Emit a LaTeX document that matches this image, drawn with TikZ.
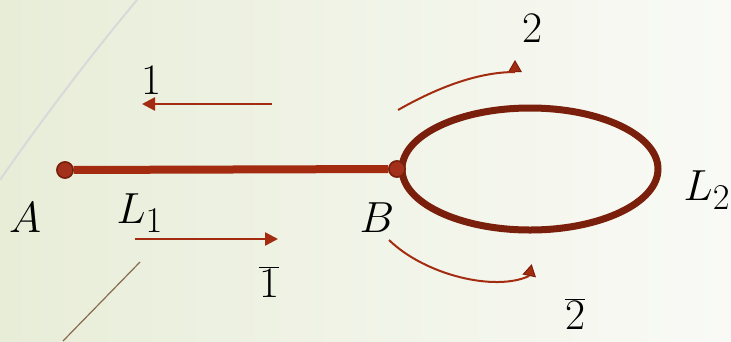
\documentclass[tikz,border=0pt]{standalone}
\usetikzlibrary{arrows.meta,shapes.geometric}
\definecolor{wirered}{HTML}{A32C10}
\definecolor{loopred}{HTML}{7A1F0B}
\definecolor{dotred}{HTML}{A3301A}
\definecolor{bgleft}{HTML}{E8EDD8}
\definecolor{bgright}{HTML}{F9FAF6}
\tikzset{
  wire/.style={line width=8pt, color=wirered},
  loopw/.style={ellipse, draw=loopred, line width=7pt, minimum width=256pt, minimum height=122pt, inner sep=0pt},
  pin/.style={circle, fill=dotred, draw=loopred, line width=1.5pt, minimum size=16pt, inner sep=0pt},
  lbl/.style={font=\Huge, scale=1.75, transform shape, inner sep=0pt},
  flow/.style={-{Triangle[length=13pt,width=13pt]}, line width=2.5pt, color=wirered},
  bow/.style={line width=2pt, color=wirered},
  tipup/.style={regular polygon, regular polygon sides=3, fill=wirered, draw=loopred, line width=1pt, minimum size=14pt, inner sep=0pt},
  deco/.style={line width=2pt, color=black!15},
  deco2/.style={line width=1.2pt, color=black!45!brown!80!white},
}

\begin{document}
\begin{tikzpicture}[x=1pt, y=-1pt]
    \shade[left color=bgleft, right color=bgright] (0,0) rectangle (731,341);
    \useasboundingbox (0,0) rectangle (731,341);
    \draw[deco] (0,180) .. controls (45,115) and (95,50) .. (137,0);
    \draw[deco2] (63,341) -- (140,262);
    \node[loopw] (loop) at (530,169) {};
    \node[pin] (a) at (65,170) {};
    \node[pin] (b) at (397,169) {};
    \draw[wire] (a) -- (b);
    \node[pin] (a) at (65,170) {};
    \node[pin] (b) at (397,169) {};
    \node[lbl] (la) at (25,218) {$A$};
    \node[lbl] (lb) at (377,218) {$B$};
    \node[lbl] (l1) at (140,213) {$L_1$};
    \node[lbl] (l2) at (707,190) {$L_2$};
    \node[lbl] (n1) at (151,80) {$1$};
    \node[lbl] (n1b) at (269,282) {$\overline{1}$};
    \node[lbl] (n2) at (532,28) {$2$};
    \node[lbl] (n2b) at (575,314) {$\overline{2}$};
    \coordinate (f1s) at (272,104);
    \coordinate (f1e) at (142,104);
    \coordinate (g1s) at (135,239);
    \coordinate (g1e) at (278,239);
    \draw[flow] (f1s) -- (f1e);
    \draw[flow] (g1s) -- (g1e);
    \node[tipup] (t2) at (515,68) {};
    \node[tipup, rotate=-12] (t2b) at (530,272) {};
    \coordinate (f2s) at (398,110);
    \coordinate (g2s) at (389,240);
    \draw[bow] (f2s) .. controls (440,86) and (480,72) .. (t2.south);
    \draw[bow] (g2s) .. controls (425,275) and (495,292) .. (t2b.south);
  \end{tikzpicture}
\end{document}
